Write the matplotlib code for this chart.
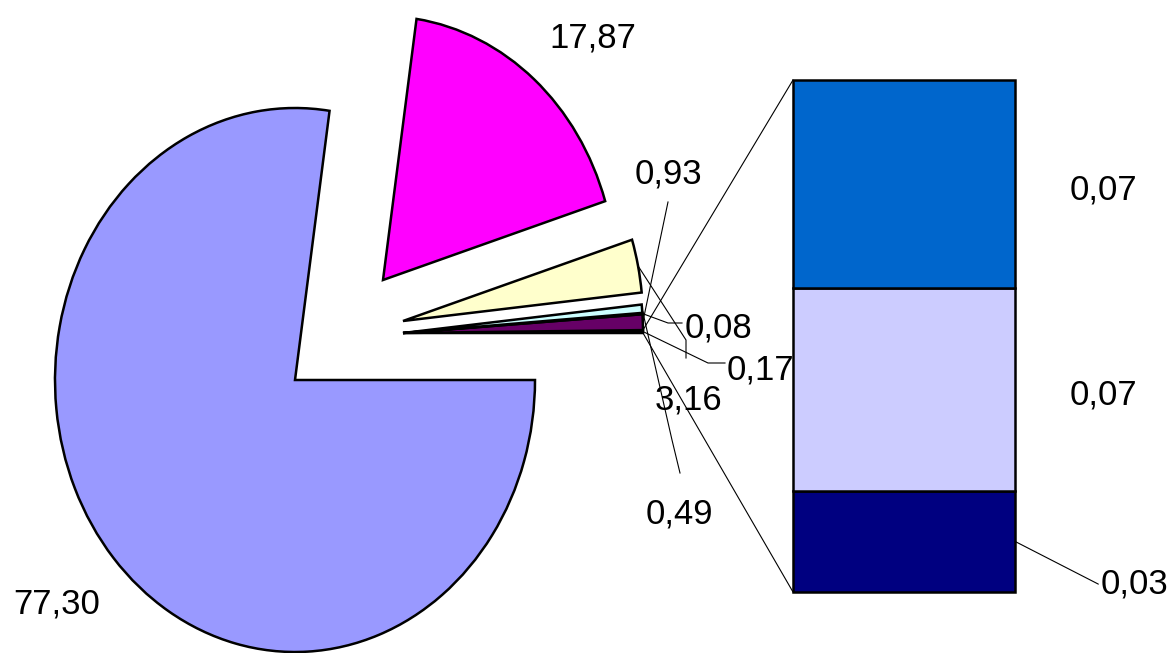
import numpy as np
import matplotlib
matplotlib.use("Agg")
import matplotlib.pyplot as plt
from matplotlib.patches import Wedge, ConnectionPatch

plt.rcParams["font.family"] = ["Liberation Sans", "DejaVu Sans"]

# pie slices, counterclockwise from 3 o'clock; first one is the "other" slice split into the bar
pie_values = [0.17, 0.93, 0.08, 0.49, 3.16, 17.87, 77.30]
pie_colors = ["#000000", "#660066", "#000000", "#CCFFFF", "#FFFFCC", "#FF00FF", "#9999FF"]

# stacked bar of the "other" slice, bottom to top
bar_values = [0.034, 0.068, 0.070]
bar_colors = ["#000080", "#CCCCFF", "#0066CC"]

W, H = 1173, 653
CX, CY, RX, RY = 295, 380, 240, 272  # pie centre and radii in pixels

def px(x, y):
    # pixel position -> pie axes data units
    return ((x - CX) / RX, (CY - y) / RY)

def fmt(v):
    return ("%.2f" % v).replace(".", ",")

# layout of each slice: centre (pixels), radius, label baseline pos, leader bend points
slice_center = [(403, 333)] * 4 + [(403, 321), (383, 280), (CX, CY)]
slice_radius = [1, 1, 1, 1, 1, 0.97, 1]
label_pos = [(760, 380), (668, 183), (718, 338), (679, 523), (688, 410), (593, 47), (57, 613)]
leaders = [[(725, 363), (708, 363)],
           [(668, 202)],
           [(682, 323), (668, 323)],
           [(680, 473), (672, 440)],
           [(686, 358), (686, 340)],
           None, None]

fig = plt.figure(figsize=(W / 100, H / 100), dpi=100)
pax = fig.add_axes([0, 0, 1, 1])
pax.set_xlim(-CX / RX, (W - CX) / RX)
pax.set_ylim(-(H - CY) / RY, CY / RY)
pax.axis("off")

angles = np.concatenate([[0], np.cumsum(pie_values)]) / sum(pie_values) * 360

for i, v in enumerate(pie_values):
    c = px(*slice_center[i])
    r = slice_radius[i]
    w = Wedge(c, r, angles[i], angles[i + 1], facecolor=pie_colors[i],
              edgecolor="black", linewidth=1.8, joinstyle="miter")
    pax.add_patch(w)
    mid = np.deg2rad((angles[i] + angles[i + 1]) / 2)
    tip = (c[0] + r * np.cos(mid), c[1] + r * np.sin(mid))
    if leaders[i] is not None:
        pts = [px(*p) for p in leaders[i]] + [tip]
        pax.plot([p[0] for p in pts], [p[1] for p in pts], color="black", lw=0.8)
    lx, ly = px(*label_pos[i])
    pax.text(lx, ly, fmt(v), fontsize=25, ha="center", va="baseline")

# bar of the "other" slice
bax = fig.add_axes([793 / W, (H - 592) / H, (1015 - 793) / W, (592 - 80) / H])
bottoms = np.concatenate([[0], np.cumsum(bar_values)[:-1]])
bax.bar(0, bar_values, bottom=bottoms, width=1, color=bar_colors,
        edgecolor="black", linewidth=1.8, clip_on=False)
bax.set_xlim(-0.5, 0.5)
bax.set_ylim(0, sum(bar_values))
bax.axis("off")

for v, b in zip(bar_values, bottoms):
    mid = b + v / 2
    if v > 0.05:
        bax.annotate(fmt(v), xy=(0.5, mid), xytext=(88, -15), textcoords="offset pixels",
                     fontsize=25, ha="center", va="baseline")
    else:
        bax.annotate(fmt(v), xy=(0.5, mid), xytext=(120, -52), textcoords="offset pixels",
                     fontsize=25, ha="center", va="baseline",
                     arrowprops=dict(arrowstyle="-", lw=0.8, color="black",
                                     shrinkA=0, shrinkB=0, relpos=(0, 0.45)))

# connectors from the "other" slice to the bar
c0 = px(*slice_center[0])
for ang, yb in [(angles[0], 0), (angles[1], sum(bar_values))]:
    a = np.deg2rad(ang)
    xa = (c0[0] + np.cos(a), c0[1] + np.sin(a))
    con = ConnectionPatch(xyA=xa, coordsA=pax.transData, xyB=(-0.5, yb), coordsB=bax.transData,
                          color="black", lw=0.8)
    fig.add_artist(con)

fig.savefig("out.png", dpi=100, facecolor="white")
